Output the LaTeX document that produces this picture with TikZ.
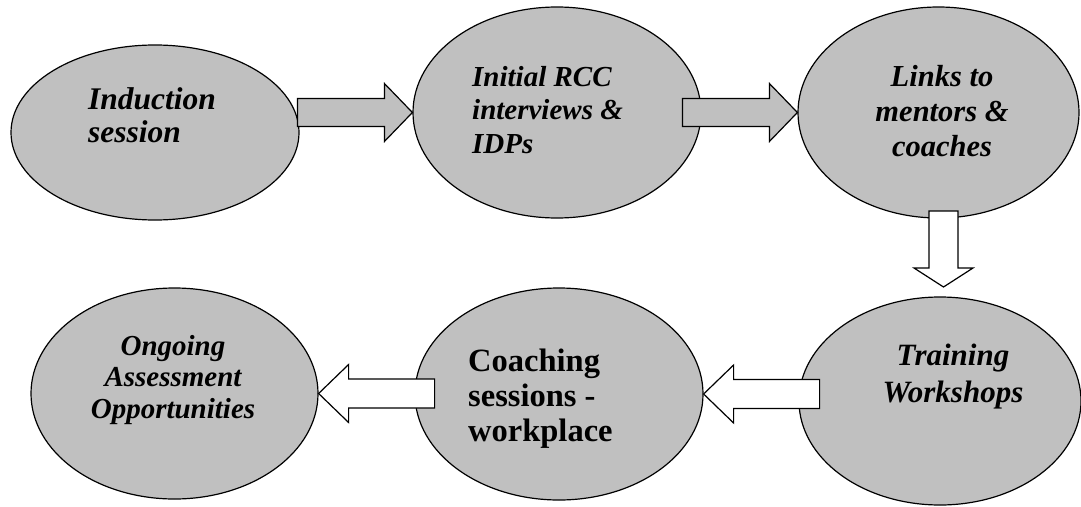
\documentclass[tikz,border=0pt]{standalone}
\usepackage{fontspec}
\setmainfont{Liberation Serif}
\usetikzlibrary{shapes.geometric}
\definecolor{silv}{RGB}{192,192,192}
\begin{document}
\begin{tikzpicture}[x=1pt,y=-1pt,
  ell/.style={ellipse, draw, fill=silv, line width=1.2pt, inner sep=0pt},
  lbl/.style={inner sep=0pt, align=left, anchor=north west},
  clbl/.style={inner sep=0pt, align=center, anchor=north},
  garrow/.style={draw, fill=silv, line width=1.2pt, line join=miter},
  warrow/.style={draw, fill=white, line width=1.2pt, line join=miter}]
\useasboundingbox (0,0) rectangle (1081,506);
% ellipses
\node[ell, minimum width=288pt, minimum height=175pt] (ind) at (155,132.5) {};
\node[ell, minimum width=288pt, minimum height=211pt] (ini) at (557,112.5) {};
\node[ell, minimum width=281pt, minimum height=211pt] (lnk) at (938.5,112.5) {};
\node[ell, minimum width=282pt, minimum height=208pt] (trn) at (940,401) {};
\node[ell, minimum width=288pt, minimum height=212pt] (coach) at (559,394) {};
\node[ell, minimum width=287pt, minimum height=211pt] (ong) at (174.5,393.5) {};
% texts
\node[lbl, font=\bfseries\itshape\fontsize{31.5}{33}\selectfont] (indt) at (88,85)
  {\rule{0pt}{24pt}Induction\\session};
\node[lbl, font=\bfseries\itshape\fontsize{29}{33.5}\selectfont] (init) at (472,62)
  {\rule{0pt}{24pt}Initial RCC\\interviews \&\\IDPs};
\node[clbl, font=\bfseries\itshape\fontsize{30.5}{35}\selectfont] (lnkt) at (942,62)
  {\rule{0pt}{24pt}Links to\\mentors \&\\coaches};
\node[clbl, font=\bfseries\itshape\fontsize{31}{37}\selectfont] (trnt) at (953,341)
  {\rule{0pt}{24pt}Training\\Workshops};
\node[lbl, font=\bfseries\fontsize{32.5}{35}\selectfont] (coacht) at (468,347)
  {\rule{0pt}{24pt}Coaching\\sessions -\\workplace};
\node[clbl, font=\bfseries\itshape\fontsize{29}{31.5}\selectfont] (ongt) at (173,331)
  {\rule{0pt}{24pt}Ongoing\\Assessment\\Opportunities};
% block arrows
\draw[garrow] (ini.west) -- ++(-28,-29) -- ++(0,15) -- ++(-87,0) -- ++(0,28)
  -- ++(87,0) -- ++(0,15) -- cycle;
\draw[garrow] (lnk.west) -- ++(-28,-29) -- ++(0,15) -- ++(-87,0) -- ++(0,28)
  -- ++(87,0) -- ++(0,15) -- cycle;
\coordinate (dtip) at (943.5,287);
\draw[warrow] (dtip) -- ++(-29.5,-19) -- ++(15,0) -- ++(0,-57) -- ++(29,0)
  -- ++(0,57) -- ++(15,0) -- cycle;
\draw[warrow] (coach.east) -- ++(30,-29) -- ++(0,14.5) -- ++(86,0) -- ++(0,29)
  -- ++(-86,0) -- ++(0,14.5) -- cycle;
\draw[warrow] (ong.east) -- ++(30,-29) -- ++(0,14.5) -- ++(86,0) -- ++(0,29)
  -- ++(-86,0) -- ++(0,14.5) -- cycle;
\end{tikzpicture}
\end{document}
